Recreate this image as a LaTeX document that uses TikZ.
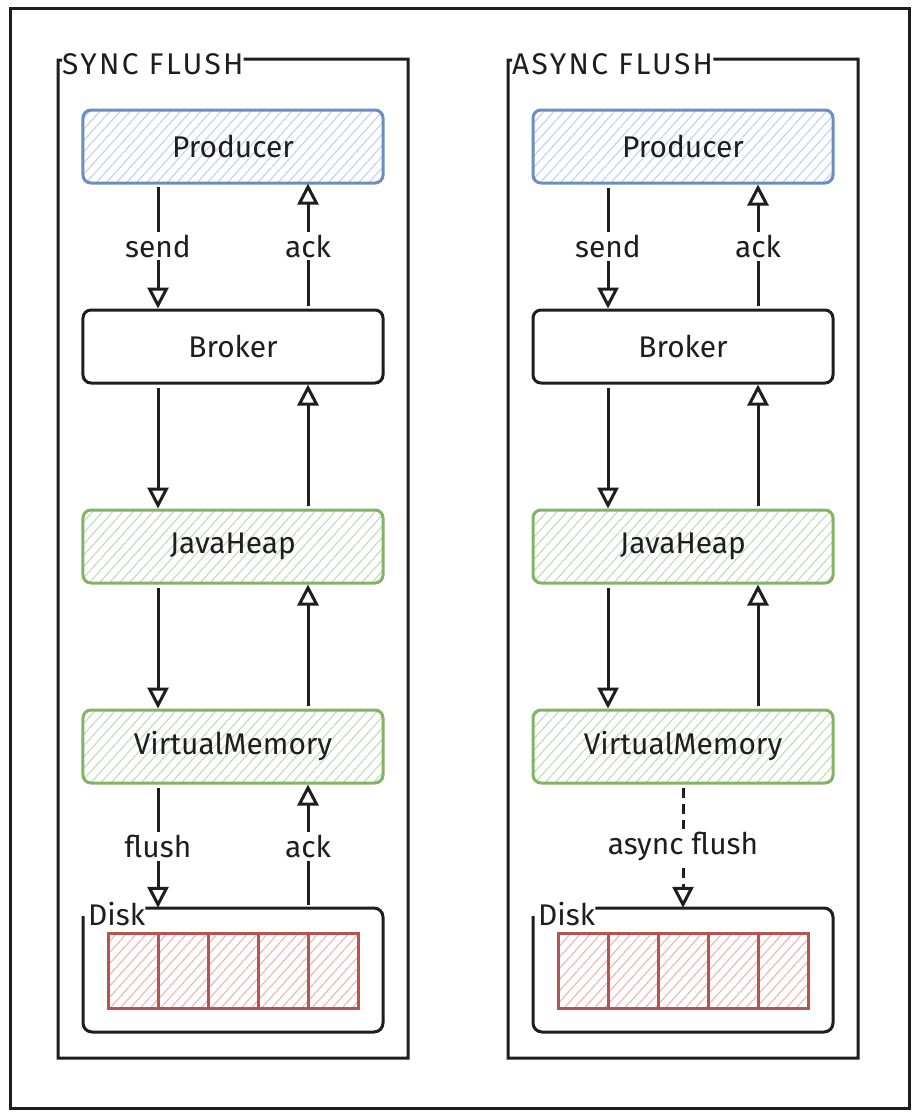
\documentclass[tikz,border=0pt]{standalone}
\usepackage{fontspec}
\setmainfont{Fira Sans}
\newfontfamily\titlefont{Fira Sans}[LetterSpace=8]
\usetikzlibrary{arrows.meta,patterns.meta}
\definecolor{inkc}{HTML}{1E1E1E}
\definecolor{bluestroke}{HTML}{6C8EBF}
\definecolor{bluehach}{HTML}{BCD3F2}
\definecolor{greenstroke}{HTML}{82B366}
\definecolor{greenhach}{HTML}{BFDCBB}
\definecolor{redstroke}{HTML}{B85450}
\definecolor{redhach}{HTML}{EFB5B1}
\begin{document}
\begin{tikzpicture}[x=1bp,y=-1bp,
  txt/.style={font=\fontsize{30}{33}\selectfont, text=inkc},
  box/.style={txt, rectangle, rounded corners=8bp, minimum width=300bp, minimum height=73bp, line width=3bp, draw=inkc, inner sep=0pt},
  bluebox/.style={box, draw=bluestroke, pattern={Lines[angle=48,distance=7.5bp,line width=1.1bp]}, pattern color=bluehach},
  greenbox/.style={box, draw=greenstroke, pattern={Lines[angle=48,distance=7.5bp,line width=1.1bp]}, pattern color=greenhach},
  cell/.style={rectangle, minimum width=50bp, minimum height=75bp, line width=3bp, draw=redstroke, pattern={Lines[angle=48,distance=7.5bp,line width=1.1bp]}, pattern color=redhach, inner sep=0pt},
  frame/.style={line width=3bp, draw=inkc},
  arr/.style={line width=3bp, draw=inkc, -{Triangle[open,length=21bp,width=21bp]}, shorten <=3bp, shorten >=0bp},
  lbl/.style={txt, fill=white, inner sep=3bp},
  title/.style={txt, anchor=west, inner sep=0pt},
  bigtitle/.style={title, font=\titlefont\fontsize{30}{33}\selectfont}
]
\useasboundingbox (0,0) rectangle (920,1119);
\fill[white] (0,0) rectangle (920,1119);
% outer border
\draw[line width=3bp, inkc] (10,8) rectangle (909,1108);

% ===== left group =====
\node[bigtitle] (ltitle) at (62,64) {SYNC FLUSH};
\draw[frame] ([yshift=5bp]ltitle.east) -- (408,59) -- (408,1058) -- (58,1058) -- (58,60) -- (62,60);
\node[bluebox] (lprod) at (233,146.5) {Producer};
\node[box] (lbrok) at (233,346.5) {Broker};
\node[greenbox] (lheap) at (233,546.5) {JavaHeap};
\node[greenbox] (lvm) at (233,746.5) {VirtualMemory};
\node[minimum width=300bp, minimum height=124bp, inner sep=0pt] (ldisk) at (233,970) {};
\node[title] (ldisklbl) at (88,914) {Disk};
\draw[frame, rounded corners=9bp] ([yshift=6bp]ldisklbl.east) -| (383,1032) -| (83,916);
\foreach \i/\x in {1/133,2/183,3/233,4/283,5/333}{
  \node[cell] (lc\i) at (\x,970.5) {};
}
\draw[arr] ([xshift=-75bp]lprod.south) -- node[lbl]{send} ([xshift=-75bp]lbrok.north);
\draw[arr] ([xshift=75bp]lbrok.north) -- node[lbl]{ack} ([xshift=75bp]lprod.south);
\draw[arr] ([xshift=-75bp]lbrok.south) -- ([xshift=-75bp]lheap.north);
\draw[arr] ([xshift=75bp]lheap.north) -- ([xshift=75bp]lbrok.south);
\draw[arr] ([xshift=-75bp]lheap.south) -- ([xshift=-75bp]lvm.north);
\draw[arr] ([xshift=75bp]lvm.north) -- ([xshift=75bp]lheap.south);
\draw[arr] ([xshift=-75bp]lvm.south) -- node[lbl]{flush} ([xshift=-75bp]ldisk.north);
\draw[arr] ([xshift=75bp]ldisk.north) -- node[lbl]{ack} ([xshift=75bp]lvm.south);

% ===== right group =====
\node[bigtitle] (rtitle) at (512,64) {ASYNC FLUSH};
\draw[frame] ([yshift=5bp]rtitle.east) -- (858,59) -- (858,1058) -- (508,1058) -- (508,60) -- (512,60);
\node[bluebox] (rprod) at (683,146.5) {Producer};
\node[box] (rbrok) at (683,346.5) {Broker};
\node[greenbox] (rheap) at (683,546.5) {JavaHeap};
\node[greenbox] (rvm) at (683,746.5) {VirtualMemory};
\node[minimum width=300bp, minimum height=124bp, inner sep=0pt] (rdisk) at (683,970) {};
\node[title] (rdisklbl) at (538,914) {Disk};
\draw[frame, rounded corners=9bp] ([yshift=6bp]rdisklbl.east) -| (833,1032) -| (533,916);
\foreach \i/\x in {1/583,2/633,3/683,4/733,5/783}{
  \node[cell] (rc\i) at (\x,970.5) {};
}
\draw[arr] ([xshift=-75bp]rprod.south) -- node[lbl]{send} ([xshift=-75bp]rbrok.north);
\draw[arr] ([xshift=75bp]rbrok.north) -- node[lbl]{ack} ([xshift=75bp]rprod.south);
\draw[arr] ([xshift=-75bp]rbrok.south) -- ([xshift=-75bp]rheap.north);
\draw[arr] ([xshift=75bp]rheap.north) -- ([xshift=75bp]rbrok.south);
\draw[arr] ([xshift=-75bp]rheap.south) -- ([xshift=-75bp]rvm.north);
\draw[arr] ([xshift=75bp]rvm.north) -- ([xshift=75bp]rheap.south);
\draw[arr, dash pattern=on 10bp off 6bp] (rvm.south) -- node[lbl]{async flush} (rdisk.north);
\end{tikzpicture}
\end{document}
